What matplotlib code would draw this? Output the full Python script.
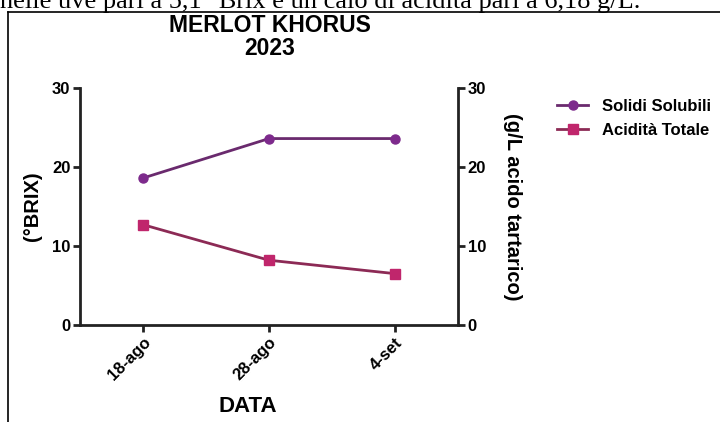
import matplotlib
matplotlib.use("Agg")
import matplotlib.pyplot as plt
from matplotlib.lines import Line2D

dates = ["18-ago", "28-ago", "4-set"]
solidi = [18.6, 23.6, 23.6]
acidita = [12.7, 8.2, 6.5]
yticks = [0, 10, 20, 30]

plt.rcParams['font.family'] = ['Liberation Sans', 'DejaVu Sans']
fig = plt.figure(figsize=(7.2, 4.22), dpi=100)
W, H = 720, 422

# page border fragments
fig.add_artist(Line2D([8/W, 8/W], [0, 1-12/H], color='black', lw=1.2))
fig.add_artist(Line2D([8/W, 1], [1-12/H, 1-12/H], color='black', lw=1.2))
fig.text(0.0, 1-8/H, "nelle uve pari a 5,1 °Brix e un calo di acidità pari a 6,18 g/L.",
         family=['Liberation Serif', 'DejaVu Serif'], fontsize=19, va='baseline', ha='left')

ax = fig.add_axes([80/W, 1-325/H, (458-80)/W, (325-88)/H])
ax2 = ax.twinx()
x = list(range(len(dates)))
c1 = '#7d2a8c'
c2 = '#c0266c'
l1, = ax.plot(x, solidi, color='#6a2a6e', lw=2, marker='o', ms=6.5,
              mfc=c1, mec=c1, label='Solidi Solubili')
l2, = ax2.plot(x, acidita, color='#8c2a55', lw=2, marker='s', ms=6.5,
               mfc=c2, mec=c2, label='Acidità Totale')

for a in (ax, ax2):
    a.set_ylim(0, 30)
    a.set_yticks(yticks)
    a.set_xlim(-0.5, 2.5)
    a.spines['top'].set_visible(False)
    for s in ('left', 'right', 'bottom'):
        a.spines[s].set_linewidth(2)
        a.spines[s].set_color('#222222')
    a.tick_params(width=2, length=5, labelsize=12, color='#222222', pad=2)
    for t in a.get_yticklabels():
        t.set_fontweight('bold')
ax.spines['right'].set_visible(False)
ax2.spines['left'].set_visible(False)
ax2.spines['bottom'].set_visible(False)

ax.set_xticks(x)
ax.set_xticklabels(dates, rotation=45, ha='right', rotation_mode='anchor',
                   fontweight='bold', fontsize=12)
ax.set_ylabel("(°BRIX)", fontweight='bold', fontsize=14.5, labelpad=7)
ax2.set_ylabel("(g/L acido tartarico)", fontweight='bold', fontsize=14.5,
               rotation=270, labelpad=26)

fig.text(248/W, 1-407/H, "DATA", ha='center', va='center',
         fontweight='bold', fontsize=16)
fig.text(270/W, 1-32/H, "MERLOT KHORUS", ha='center', va='baseline',
         fontweight='bold', fontsize=16.5)
fig.text(270/W, 1-55/H, "2023", ha='center', va='baseline',
         fontweight='bold', fontsize=16.5)

fig.legend(handles=[l1, l2], loc='upper left', bbox_to_anchor=(545/W, 1-87/H),
           frameon=False, prop={'weight': 'bold', 'size': 12},
           handlelength=1.9, labelspacing=0.55, handletextpad=0.8,
           borderpad=0.2)

fig.savefig("out.png", dpi=100)
